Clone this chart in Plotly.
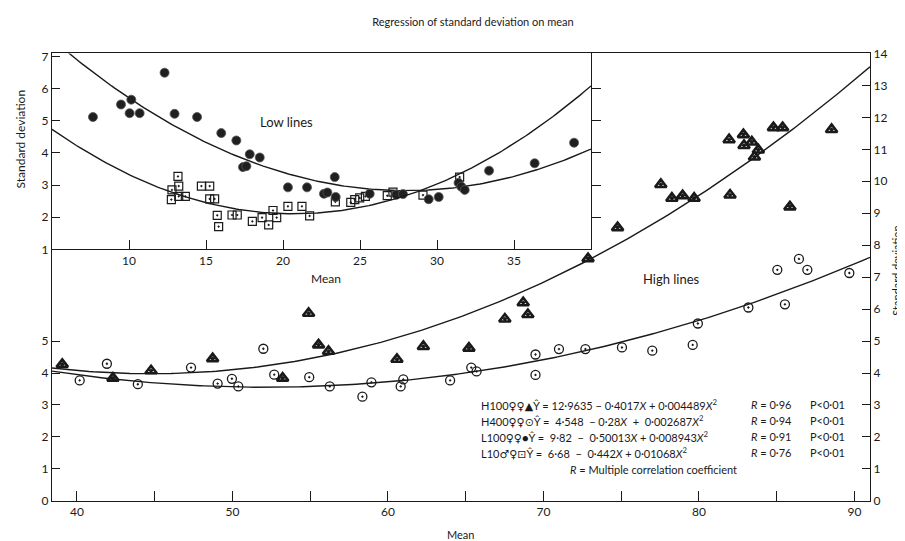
import numpy as np
import plotly.graph_objects as go

W, H = 905, 541

# ---------------- data ----------------
# High lines (main plot)
h100_x = [39.06, 42.32, 44.77, 48.73, 53.23, 54.9, 55.54, 56.18, 60.58, 62.28, 65.21, 67.52, 68.7, 69.0,
          72.87, 74.77, 77.55, 78.26, 78.95, 79.69, 81.94, 82.0, 82.86, 82.9, 83.4, 83.82, 83.57, 84.79,
          85.38, 85.85, 88.53]
h100_y = [4.27, 3.84, 4.07, 4.45, 3.84, 5.87, 4.88, 4.68, 4.43, 4.83, 4.78, 5.69, 6.2, 5.83,
          7.58, 8.55, 9.9, 9.47, 9.55, 9.47, 11.3, 9.57, 11.46, 11.12, 11.23, 10.98, 10.76, 11.68,
          11.68, 9.2, 11.62]
h400_x = [40.18, 41.93, 43.92, 47.34, 49.05, 49.97, 50.38, 51.99, 52.69, 54.94, 56.26, 58.36, 58.94,
          60.82, 60.99, 64.0, 65.36, 65.7, 69.49, 69.49, 71.0, 72.7, 75.05, 77.0, 79.6, 79.93, 83.18,
          85.53, 85.04, 86.43, 86.97, 89.67]
h400_y = [3.77, 4.29, 3.65, 4.17, 3.67, 3.82, 3.58, 4.76, 3.95, 3.87, 3.58, 3.26, 3.71,
          3.58, 3.8, 3.77, 4.17, 4.05, 4.58, 3.94, 4.75, 4.75, 4.8, 4.7, 4.88, 5.55, 6.05,
          6.15, 7.23, 7.57, 7.23, 7.13]

# Low lines (inset)
l100_x = [7.66, 9.48, 10.15, 10.04, 10.69, 12.31, 12.96, 14.42, 15.99, 16.97, 17.84, 18.49, 17.4, 17.62,
          20.32, 21.56, 23.36, 22.66, 22.88, 23.42, 25.63, 27.36, 27.79, 29.46, 30.11, 31.4, 31.58, 31.8,
          33.38, 36.34, 38.9]
l100_y = [5.12, 5.51, 5.66, 5.24, 5.24, 6.5, 5.22, 5.12, 4.62, 4.39, 3.96, 3.86, 3.56, 3.59,
          2.93, 2.93, 3.25, 2.73, 2.77, 2.63, 2.73, 2.7, 2.72, 2.56, 2.63, 3.07, 2.95, 2.85,
          3.45, 3.68, 4.32]
l10_x = [13.18, 13.23, 12.79, 12.75, 13.23, 13.66, 14.7, 15.24, 15.24, 15.56, 15.73, 15.82, 16.69, 17.03,
         18.01, 18.64, 19.07, 19.35, 19.59, 20.32, 21.23, 21.73, 23.4, 24.4, 24.66, 24.98, 25.35, 26.77,
         27.14, 29.09, 31.47]
l10_y = [3.27, 2.97, 2.85, 2.55, 2.65, 2.65, 2.97, 2.97, 2.57, 2.57, 2.06, 1.71, 2.07, 2.07,
         1.87, 1.99, 1.76, 2.21, 1.99, 2.34, 2.34, 2.04, 2.48, 2.46, 2.55, 2.6, 2.65, 2.67,
         2.78, 2.69, 3.25]

# Regression coefficients (constant, X, X^2)
h100_coef = [12.9635, -0.4017, 0.004489]
h400_coef = [10.85, -0.28, 0.002687]   # constant as drawn on the chart
l100_coef = [9.82, -0.50013, 0.008943]
l10_coef = [6.68, -0.442, 0.01068]

main_x_range = [38.4, 91.0]
inset_x_range = [5, 40]
main_major_ticks = [40, 50, 60, 70, 80, 90]
main_minor_ticks = [45, 55, 65, 75, 85]

# equation labels
eq_lines = [
    "H100♀♀▲Ŷ = 12·9635 − 0·4017<i>X</i> + 0·004489<i>X</i><sup>2</sup>",
    "H400♀♀⊙Ŷ =  4·548  − 0·28<i>X</i>  +  0·002687<i>X</i><sup>2</sup>",
    "L100♀♀●Ŷ =  9·82  −  0·50013<i>X</i> + 0·008943<i>X</i><sup>2</sup>",
    "L10♂♀⊡Ŷ =  6·68  −  0·442<i>X</i> + 0·01068<i>X</i><sup>2</sup>",
]
r_vals = ["<i>R</i> = 0·96", "<i>R</i> = 0·94", "<i>R</i> = 0·91", "<i>R</i> = 0·76"]
p_vals = ["P<0·01", "P<0·01", "P<0·01", "P<0·01"]

# ---------------- helpers ----------------
def poly(coef, xs):
    xs = np.asarray(xs)
    return coef[0] + coef[1] * xs + coef[2] * xs ** 2

def px(x):
    return x / W

def py(y):
    return 1 - y / H

FONT = "Lato, 'Open Sans', 'DejaVu Sans', sans-serif"
INK = "#1a1a1a"

xm = np.linspace(main_x_range[0], main_x_range[1], 200)
xi = np.linspace(inset_x_range[0], inset_x_range[1], 200)

fig = go.Figure()
line_style = dict(color=INK, width=1.4)

# main plot curves & points
fig.add_trace(go.Scatter(x=xm, y=poly(h100_coef, xm), mode="lines", line=line_style,
                         xaxis="x", yaxis="y3", hoverinfo="skip", showlegend=False))
fig.add_trace(go.Scatter(x=xm, y=poly(h400_coef, xm), mode="lines", line=line_style,
                         xaxis="x", yaxis="y", hoverinfo="skip", showlegend=False))
fig.add_trace(go.Scatter(x=h400_x, y=h400_y, mode="markers", xaxis="x", yaxis="y", showlegend=False,
                         marker=dict(symbol="circle-open-dot", size=9, color=INK, line=dict(width=1.3, color=INK))))
fig.add_trace(go.Scatter(x=h100_x, y=h100_y, mode="markers", xaxis="x", yaxis="y", showlegend=False,
                         marker=dict(symbol="triangle-up-open-dot", size=10, color=INK, line=dict(width=2.6, color=INK))))

# inset curves & points
fig.add_trace(go.Scatter(x=xi, y=poly(l100_coef, xi), mode="lines", line=line_style,
                         xaxis="x2", yaxis="y2", hoverinfo="skip", showlegend=False))
fig.add_trace(go.Scatter(x=xi, y=poly(l10_coef, xi), mode="lines", line=line_style,
                         xaxis="x2", yaxis="y4", hoverinfo="skip", showlegend=False))
fig.add_trace(go.Scatter(x=l10_x, y=l10_y, mode="markers", xaxis="x2", yaxis="y2", showlegend=False,
                         marker=dict(symbol="square-open-dot", size=8, color=INK, line=dict(width=1.2, color=INK))))
fig.add_trace(go.Scatter(x=l100_x, y=l100_y, mode="markers", xaxis="x2", yaxis="y2", showlegend=False,
                         marker=dict(symbol="circle", size=9, color="#202020", line=dict(width=0.8, color="#555"))))

# ---------------- layout ----------------
main_xdom = [px(44), px(862)]
main_ydom = [py(498.7), py(38.5)]
inset_xdom = [px(44), px(583)]
inset_ydom = [py(240), py(38.5)]

axis_common = dict(showline=True, linecolor=INK, linewidth=1.3, showgrid=False, zeroline=False,
                   tickcolor=INK, tickwidth=1.3, tickfont=dict(family=FONT, size=12, color=INK))

fig.update_layout(
    width=W, height=H,
    margin=dict(l=0, r=0, t=0, b=0),
    paper_bgcolor="white", plot_bgcolor="white",
    showlegend=False,
    title=dict(text="Regression of standard deviation on mean", x=px(465), xanchor="center",
               y=py(14), yanchor="middle", font=dict(family=FONT, size=11, color=INK)),
    xaxis=dict(axis_common, domain=main_xdom, range=main_x_range, anchor="y", mirror=True,
               tickmode="array", tickvals=main_major_ticks, ticks="inside", ticklen=10,
               minor=dict(tickmode="array", tickvals=main_minor_ticks, ticks="inside", ticklen=10,
                          tickcolor=INK, tickwidth=1.3, showgrid=False)),
    yaxis=dict(axis_common, domain=main_ydom, range=[0, 14], anchor="x",
               tickmode="array", tickvals=[0, 1, 2, 3, 4, 5], ticks="inside", ticklen=8),
    yaxis3=dict(axis_common, domain=main_ydom, range=[0, 14], anchor="x", overlaying="y", side="right",
                tickmode="array", tickvals=list(range(0, 15)), ticks="inside", ticklen=8),
    xaxis2=dict(axis_common, domain=inset_xdom, range=inset_x_range, anchor="y2", mirror=True,
                tickmode="array", tickvals=[10, 15, 20, 25, 30, 35], ticks="inside", ticklen=9),
    yaxis2=dict(axis_common, domain=inset_ydom, range=[1, 7.1], anchor="x2", mirror=True,
                tickmode="array", tickvals=[1, 2, 3, 4, 5, 6, 7], ticks="inside", ticklen=8),
    yaxis4=dict(axis_common, domain=inset_ydom, range=[1, 7.1], anchor="x2", overlaying="y2", side="right",
                tickmode="array", tickvals=[2, 3, 4, 5, 6], ticks="outside", ticklen=9,
                showticklabels=False),
)

ann = []
def label(text, x, y, size=12, angle=0, xanchor="center"):
    ann.append(dict(text=text, x=px(x), y=py(y), xref="paper", yref="paper", showarrow=False,
                    xanchor=xanchor, yanchor="middle", textangle=angle,
                    font=dict(family=FONT, size=size, color=INK)))

label("Standard deviation", 12, 127, size=12, angle=-90)
label("Standard deviation", 889, 262, size=11, angle=-90)
label("Mean", 318, 270, size=12)
label("Mean", 452, 533, size=11)
label("Low lines", 278, 109, size=13)
label("High lines", 663, 270, size=13)

rows_y = [400, 416, 432, 449]
for i in range(4):
    label(eq_lines[i], 471, rows_y[i], size=11, xanchor="left")
    label(r_vals[i], 741, rows_y[i], size=11, xanchor="left")
    label(p_vals[i], 800, rows_y[i], size=11, xanchor="left")
label("<i>R</i> = Multiple correlation coefficient", 645, 466, size=11)

fig.update_layout(annotations=ann)
fig.write_html("out.html")
